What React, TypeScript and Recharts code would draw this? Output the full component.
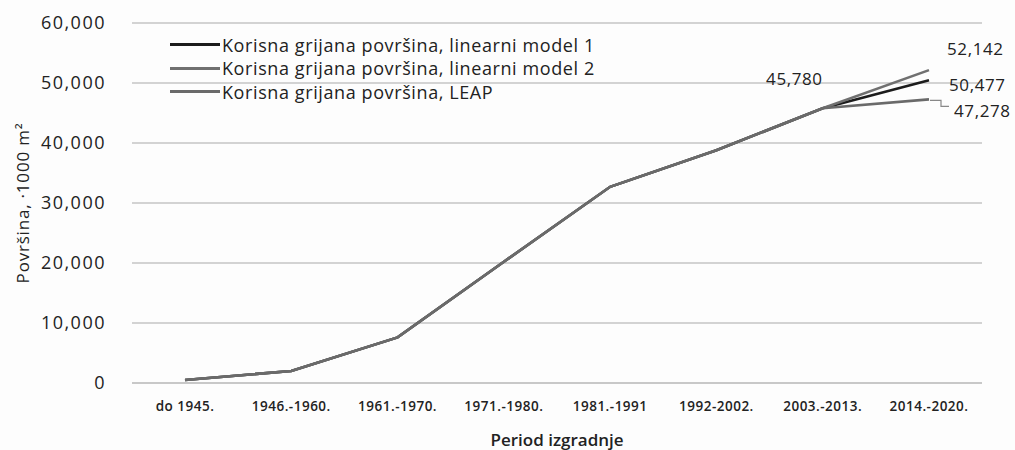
import React from 'react';
import { LineChart, Line, XAxis, YAxis, CartesianGrid, Label, LabelList } from 'recharts';

const periods = ['do 1945.', '1946.-1960.', '1961.-1970.', '1971.-1980.', '1981.-1991', '1992-2002.', '2003.-2013.', '2014.-2020.'];
const model1 = [500, 2000, 7600, 20200, 32700, 38800, 45780, 50477];
const model2 = [500, 2000, 7600, 20200, 32700, 38800, 45780, 52142];
const leap = [500, 2000, 7600, 20200, 32700, 38800, 45780, 47278];
const yTicks = [0, 10000, 20000, 30000, 40000, 50000, 60000];

const seriesNames = [
    'Korisna grijana površina, linearni model 1',
    'Korisna grijana površina, linearni model 2',
    'Korisna grijana površina, LEAP',
];
const seriesColors = ['#1c1c1c', '#707070', '#6a6a6a'];

const data = periods.map((p, i) => ({ period: p, m1: model1[i], m2: model2[i], leap: leap[i] }));

const FONT = '"Open Sans", "Noto Sans", sans-serif';
const fmt = (v: number) => v.toLocaleString('en-US');

// value labels only at chosen points
const pointLabel = (index: number, dx: number, dy: number, anchor: string, leader?: boolean) => (props: any) => {
    if (props.index !== index) return null;
    const { x, y, value } = props;
    return (
        <g>
            {leader && <path d={`M${x + 1},${y + 1} L${x + 12},${y + 1} L${x + 12},${y + 7} L${x + 20},${y + 7}`} stroke="#888" fill="none" strokeWidth={1.2} />}
            <text x={x + dx} y={y + dy} textAnchor={anchor} dominantBaseline="central" fontFamily={FONT} fontSize={17} letterSpacing={0.6} fill="#222">
                {fmt(value)}
            </text>
        </g>
    );
};

const YTitle = (props: any) => {
    const { viewBox } = props;
    const cy = viewBox.y + viewBox.height / 2;
    return (
        <text x={22} y={cy} transform={`rotate(-90, 22, ${cy})`} textAnchor="middle" dominantBaseline="central" fontFamily={FONT} fontSize={17} letterSpacing={0.8} fill="#222">
            Površina, ·1000 m²
        </text>
    );
};

export default function App() {
    return (
        <div style={{ position: 'absolute', left: 0, top: 0, width: 1015, height: 450, background: '#fdfdfd' }}>
            <LineChart width={1015} height={450} data={data} margin={{ top: 23, right: 33, bottom: 0, left: 0 }}>
                <CartesianGrid vertical={false} stroke="#c4c4c4" strokeWidth={1.6} />
                <XAxis dataKey="period" height={67} axisLine={{ stroke: '#c4c4c4', strokeWidth: 1.6 }} tickLine={false}
                    tickMargin={12} interval={0} padding={{ left: 53, right: 53 }}
                    tick={{ fontFamily: FONT, fontSize: 13.5, fill: '#222', letterSpacing: 0.5, fontWeight: 600 }}>
                    <Label value="Period izgradnje" position="insideBottom" offset={4}
                        style={{ fontFamily: FONT, fontSize: 17, fill: '#222', fontWeight: 600 }} />
                </XAxis>
                <YAxis width={132} domain={[0, 60000]} ticks={yTicks} tickFormatter={fmt} axisLine={false} tickLine={false}
                    tickMargin={20}
                    tick={{ fontFamily: FONT, fontSize: 18, fill: '#222', letterSpacing: 1.5 }}>
                    <Label content={YTitle} />
                </YAxis>
                <Line type="linear" dataKey="m1" name={seriesNames[0]} stroke={seriesColors[0]} strokeWidth={2.6} dot={false} isAnimationActive={false}>
                    <LabelList dataKey="m1" content={pointLabel(7, 20, 4, 'start')} />
                </Line>
                <Line type="linear" dataKey="m2" name={seriesNames[1]} stroke={seriesColors[1]} strokeWidth={2.6} dot={false} isAnimationActive={false}>
                    <LabelList dataKey="m2" content={pointLabel(7, 18, -22, 'start')} />
                    <LabelList dataKey="m2" content={pointLabel(6, 0, -30, 'end')} />
                </Line>
                <Line type="linear" dataKey="leap" name={seriesNames[2]} stroke={seriesColors[2]} strokeWidth={2.6} dot={false} isAnimationActive={false}>
                    <LabelList dataKey="leap" content={pointLabel(7, 25, 11, 'start', true)} />
                </Line>
            </LineChart>
            {/* legend drawn by hand so it does not push the plot area */}
            <div style={{ position: 'absolute', left: 170, top: 33, fontFamily: FONT, fontSize: 18, color: '#222', letterSpacing: 0.6 }}>
                {seriesNames.map((name, i) => (
                    <div key={name} style={{ display: 'flex', alignItems: 'center', height: 23.5 }}>
                        <span style={{ display: 'inline-block', width: 50, height: 3, background: seriesColors[i], marginRight: 2 }} />
                        <span>{name}</span>
                    </div>
                ))}
            </div>
        </div>
    );
}
